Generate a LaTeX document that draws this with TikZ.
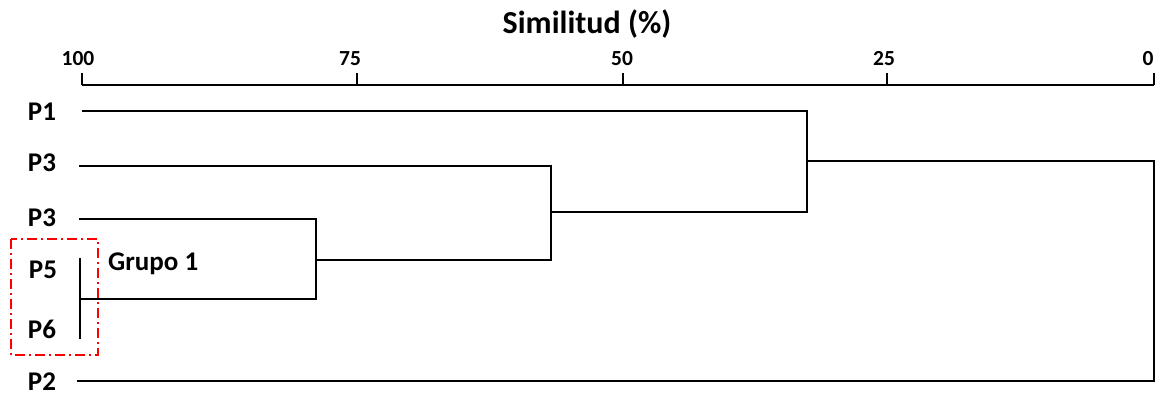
\documentclass[tikz,border=0pt]{standalone}
\usepackage{fontspec}
\setmainfont{Carlito}
\begin{document}
\begin{tikzpicture}[x=1pt,y=-1pt,
  branch/.style={line width=2pt, line cap=rect},
  leaflabel/.style={anchor=base, font=\fontsize{27}{30}\selectfont\bfseries, inner sep=0pt},
  ticklabel/.style={anchor=base, font=\fontsize{21.5}{24}\selectfont\bfseries, inner sep=0pt},
  axisline/.style={line width=2.2pt},
  groupbox/.style={draw=red, line width=2pt, dash pattern=on 10pt off 4pt on 2pt off 4pt}]
\useasboundingbox (0,0) rectangle (1156,395);

% title and scale
\node[anchor=base, inner sep=0pt, font=\fontsize{32}{36}\selectfont\bfseries] (title) at (587,34) {Similitud (\%)};
\coordinate (a100) at (82,85);
\coordinate (a75) at (357,85);
\coordinate (a50) at (623,85);
\coordinate (a25) at (887,85);
\coordinate (a0) at (1154,85);
\draw[axisline] (a100) -- (a0);
\foreach \n in {a100,a75,a50,a25,a0} \draw[axisline] (\n) -- ++(0,-12);
\node[ticklabel] (t100) at (78,66) {100};
\node[ticklabel] (t75) at (350,66) {75};
\node[ticklabel] (t50) at (622,66) {50};
\node[ticklabel] (t25) at (884,66) {25};
\node[ticklabel] (t0) at (1148,66) {0};

% leaf labels
\node[leaflabel] (lP1) at (42,121) {P1};
\node[leaflabel] (lP3a) at (42,172) {P3};
\node[leaflabel] (lP3b) at (42,227) {P3};
\node[leaflabel] (lP5) at (43,279) {P5};
\node[leaflabel] (lP6) at (42,338) {P6};
\node[leaflabel] (lP2) at (42,390) {P2};
\node[leaflabel, anchor=base west] (grp) at (108,271) {Grupo 1};

% leaf ends
\coordinate (e1) at (83,111);
\coordinate (e3a) at (80,166);
\coordinate (e3b) at (80,219);
\coordinate (e56) at (82,299);
\coordinate (e56t) at (80,259);
\coordinate (e56b) at (80,338);
\coordinate (e2) at (78,381);

% junctions
\coordinate (j1) at (316,219);
\coordinate (j1b) at (316,299);
\coordinate (j1m) at (316,260);
\coordinate (j2) at (551,166);
\coordinate (j2b) at (551,260);
\coordinate (j2m) at (551,212);
\coordinate (j3) at (807,111);
\coordinate (j3b) at (807,212);
\coordinate (j3m) at (807,161);
\coordinate (j4) at (1154,161);
\coordinate (j4b) at (1154,381);

% dendrogram branches
\draw[branch] (e56t) -- (e56b);
\draw[branch] (e56) -- (j1b);
\draw[branch] (e3b) -- (j1) -- (j1b);
\draw[branch] (j1m) -- (j2b);
\draw[branch] (e3a) -- (j2) -- (j2b);
\draw[branch] (j2m) -- (j3b);
\draw[branch] (e1) -- (j3) -- (j3b);
\draw[branch] (j3m) -- (j4);
\draw[branch] (j4) -- (j4b);
\draw[branch] (e2) -- (j4b);

% group marker
\draw[groupbox] (11,239) rectangle (98,355);
\end{tikzpicture}
\end{document}
